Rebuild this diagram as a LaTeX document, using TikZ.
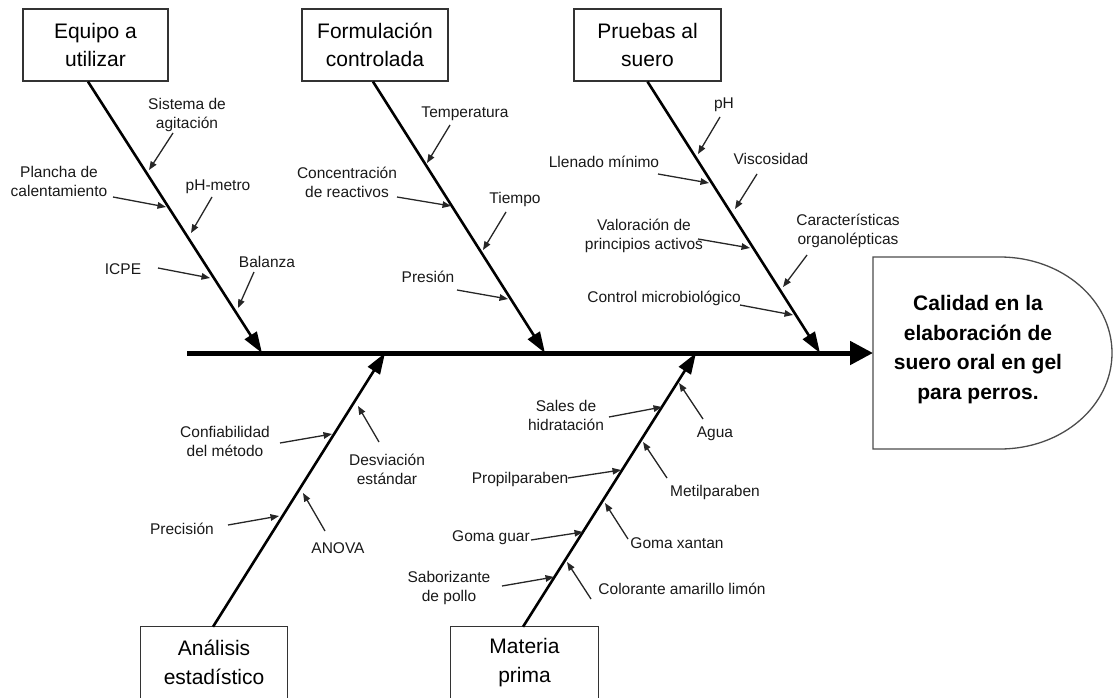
\documentclass[tikz,border=0pt]{standalone}
\usepackage{fontspec}
\setmainfont{Liberation Sans}
\usetikzlibrary{arrows.meta}
\newcommand\causa[6]{%
  \node[#2] (#1) at (#3) {#4};
  \coordinate (#1s) at (#5);
  \coordinate (#1e) at (#6);
  \draw[sarr] (#1s) -- (#1e);}
\begin{document}
\begin{tikzpicture}[x=1pt,y=-1pt,
  catbox/.style={draw=black!80, line width=1.3pt, minimum width=145pt, minimum height=72pt,
    inner sep=0pt, align=center, font=\fontsize{21}{28.5}\selectfont},
  catopen/.style={minimum width=146pt, minimum height=71pt,
    inner sep=0pt, align=center, font=\fontsize{21}{28.5}\selectfont},
  lab/.style={inner sep=0pt, align=center, font=\fontsize{15.5}{19}\selectfont, text=black!90},
  labA/.style={lab, anchor=base},
  labB/.style={lab, anchor=center},
  sarr/.style={draw=black!85, line width=1.3pt, -{Triangle[length=8.5pt,width=6.5pt]}},
  rib/.style={draw=black, line width=2.6pt, -{Triangle[length=21pt,width=14pt]}},
  spine/.style={draw=black, line width=5pt, -{Triangle[length=23pt,width=23pt]}},
  headtxt/.style={inner sep=0pt, align=center, font=\bfseries\fontsize{21}{29.5}\selectfont},
  headline/.style={draw=black!70, line width=1.3pt}]
\useasboundingbox (0,0) rectangle (1113,698);

% category boxes
\node[catbox] (equipo) at (95.5,45) {Equipo a\\utilizar};
\node[catbox, minimum width=146pt] (formul) at (375,45) {Formulación\\controlada};
\node[catbox, minimum width=147pt] (pruebas) at (647.5,45) {Pruebas al\\suero};
\node[catopen] (analisis) at (214,662.5) {Análisis\\estadístico};
\node[catopen, minimum width=147pt] (materia) at (524.5,662.5) {Materia\\prima};
\draw[draw=black!80, line width=1.3pt] (analisis.south west) -- (analisis.north west)
  -- (analisis.north east) -- (analisis.south east);
\draw[draw=black!80, line width=1.3pt] (materia.south west) -- (materia.north west)
  -- (materia.north east) -- (materia.south east);

% head
\draw[headline] (873,257) -- (1000,257) .. controls (1062,257) and (1112,300) .. (1112,353)
  .. controls (1112,406) and (1062,449) .. (1000,449) -- (873,449) -- cycle;
\node[headtxt] (head) at (978,349.5) {Calidad en la\\elaboración de\\suero oral en gel\\para perros.};

% spine
\coordinate (spL) at (187,353);
\coordinate (headL) at (873,353);
\draw[spine] (spL) -- (headL);

% ribs
\coordinate (r1) at (262,353);
\coordinate (r2) at (545,353);
\coordinate (r3) at (820,353);
\coordinate (r4) at (385,353);
\coordinate (r5) at (696,353);
\draw[rib] ([xshift=-7.5pt]equipo.south) -- (r1);
\draw[rib] ([xshift=-2pt]formul.south) -- (r2);
\draw[rib] (pruebas.south) -- (r3);
\draw[rib] ([xshift=-1pt]analisis.north) -- (r4);
\draw[rib] ([xshift=-1.5pt]materia.north) -- (r5);

% Equipo a utilizar
\causa{sis}{labB}{187,115}{Sistema de\\agitación}{173,133}{149,170}
\causa{pla}{labB}{59,181}{Plancha de\\calentamiento}{113,197}{166,207}
\causa{phm}{labA}{218,190.5}{pH-metro}{212,197}{191,233}
\causa{icp}{labA}{123,274.5}{ICPE}{158,268}{210,278}
\causa{bal}{labA}{267,267.5}{Balanza}{254,272}{238,308}

% Formulacion controlada
\causa{tem}{labA}{465,117.5}{Temperatura}{450,125}{427,163}
\causa{con}{labB}{347,182}{Concentración\\de reactivos}{397,197}{451,206}
\causa{tie}{labA}{515,203.5}{Tiempo}{506,212}{483,250}
\causa{pre}{labA}{428,282.5}{Presión}{457,290}{508,299}

% Pruebas al suero
\causa{ph}{labA}{724,108.5}{pH}{720,117}{698,154}
\causa{lle}{labA}{604,167.5}{Llenado mínimo}{658,174}{709,183}
\causa{vis}{labA}{771,164.5}{Viscosidad}{757,174}{735,209}
\causa{val}{labB}{644,236}{Valoración de\\principios activos}{698,239}{750,248}
\causa{car}{labB}{848,231}{Características\\organolépticas}{807,255}{783,287}
\causa{ctl}{labA}{664,302.5}{Control microbiológico}{740,305}{793,315}

% Analisis estadistico
\causa{cnf}{labB}{225,441}{Confiabilidad\\del método}{280,443}{332,434}
\causa{des}{labB}{387,469.5}{Desviación\\estándar}{379,442}{358,406}
\causa{prc}{labA}{182,534.5}{Precisión}{228,525}{279,516}
\causa{ano}{labA}{338,553.5}{ANOVA}{325,531}{303,493}

% Materia prima
\causa{sal}{labB}{566,415}{Sales de\\hidratación}{609,417}{662,407}
\causa{agu}{labA}{715,437.5}{Agua}{703,419}{679,383}
\causa{pro}{labA}{520,483.5}{Propilparaben}{568,478}{621,470}
\causa{met}{labA}{715,496.5}{Metilparaben}{667,478}{643,442}
\causa{gua}{labA}{491,541.5}{Goma guar}{531,540}{583,532}
\causa{xan}{labA}{677,548.5}{Goma xantan}{628,539}{605,503}
\causa{sab}{labB}{449,588}{Saborizante\\de pollo}{502,586}{554,577}
\causa{col}{labA}{682,594.5}{Colorante amarillo limón}{591,599}{567,562}
\end{tikzpicture}
\end{document}
